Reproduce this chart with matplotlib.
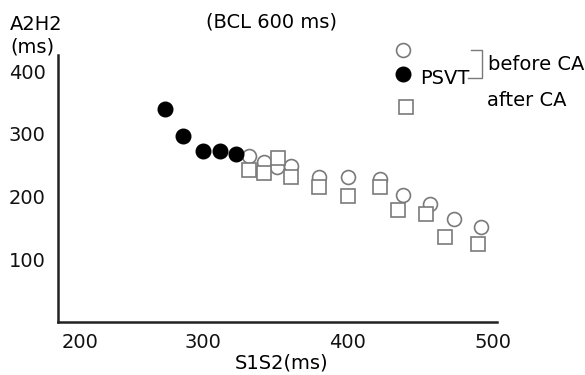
"""
A2H2 vs S1S2 scatter (BCL 600 ms): before CA, PSVT, after CA.
"""

import matplotlib
matplotlib.use("Agg")
import matplotlib.pyplot as plt
import matplotlib.transforms as mtransforms
from matplotlib.lines import Line2D

# PSVT (filled dots)
psvt_x = [274, 286, 300, 312, 323]
psvt_y = [340, 296, 273, 273, 268]

# before CA (open circles)
before_x = [332, 342, 351, 361, 380, 400, 422, 438, 457, 473, 492]
before_y = [265, 256, 247, 249, 232, 232, 228, 203, 189, 165, 151]

# after CA (open squares)
after_x = [332, 342, 352, 361, 380, 400, 422, 435, 454, 467, 490]
after_y = [242, 238, 261, 232, 215, 201, 216, 179, 172, 135, 124]

x_ticks = [200, 300, 400, 500]
y_ticks = [100, 200, 300, 400]

GREY = "#7a7a7a"
FS = 14


def main() -> None:
    plt.rcParams["font.family"] = "DejaVu Sans"
    fig = plt.figure(figsize=(5.85, 3.75), dpi=100)
    ax = fig.add_axes([58 / 585, 1 - 322 / 375, 439 / 585, 267 / 375])

    ax.plot(before_x, before_y, "o", ms=10, mfc="white", mec=GREY, mew=1.2,
            linestyle="none", zorder=3)
    ax.plot(after_x, after_y, "s", ms=10, mfc="white", mec=GREY, mew=1.2,
            linestyle="none", zorder=4)
    ax.plot(psvt_x, psvt_y, "o", ms=10.5, color="black", linestyle="none", zorder=5)

    ax.set_xlim(200, 503)
    ax.set_ylim(0, 426)
    ax.set_xticks(x_ticks)
    ax.set_yticks(y_ticks)
    ax.tick_params(length=0, labelsize=FS, colors="#111111")
    ax.tick_params(axis="x", pad=8)
    ax.tick_params(axis="y", pad=9)

    # the "200" label sits just right of the corner
    first = ax.get_xticklabels()[0]
    first.set_horizontalalignment("left")
    first.set_transform(first.get_transform() +
                        mtransforms.ScaledTranslation(4 / 100, 0, fig.dpi_scale_trans))

    for side in ("top", "right"):
        ax.spines[side].set_visible(False)
    for side in ("left", "bottom"):
        ax.spines[side].set_linewidth(1.8)
        ax.spines[side].set_color("#222222")

    def px(x, y):
        return x / 585, 1 - y / 375

    fig.text(*px(10, 25), "A2H2", fontsize=FS, va="center", ha="left")
    fig.text(*px(10, 47), "(ms)", fontsize=FS, va="center", ha="left")
    fig.text(*px(272, 22), "(BCL 600 ms)", fontsize=FS, va="center", ha="center")
    fig.text(*px(282, 363), "S1S2(ms)", fontsize=FS, va="center", ha="center")

    # legend, drawn by hand
    def fig_marker(x, y, **kw):
        fx, fy = px(x, y)
        fig.add_artist(Line2D([fx], [fy], transform=fig.transFigure, linestyle="none", **kw))

    fig_marker(403, 50, marker="o", ms=10, mfc="white", mec=GREY, mew=1.2)
    fig_marker(403, 74, marker="o", ms=10.5, color="black")
    fig_marker(406, 107, marker="s", ms=10, mfc="white", mec=GREY, mew=1.2)

    bx = [471, 482, 482, 468]
    by = [50, 50, 78, 78]
    fig.add_artist(Line2D([px(x, 0)[0] for x in bx], [px(0, y)[1] for y in by],
                          transform=fig.transFigure, color=GREY, lw=1.0))
    fig.text(*px(420, 78), "PSVT", fontsize=FS, va="center", ha="left")
    fig.text(*px(488, 65), "before CA", fontsize=FS, va="center", ha="left")
    fig.text(*px(487, 100), "after CA", fontsize=FS, va="center", ha="left")

    fig.savefig("out.png", dpi=100)


if __name__ == "__main__":
    main()
